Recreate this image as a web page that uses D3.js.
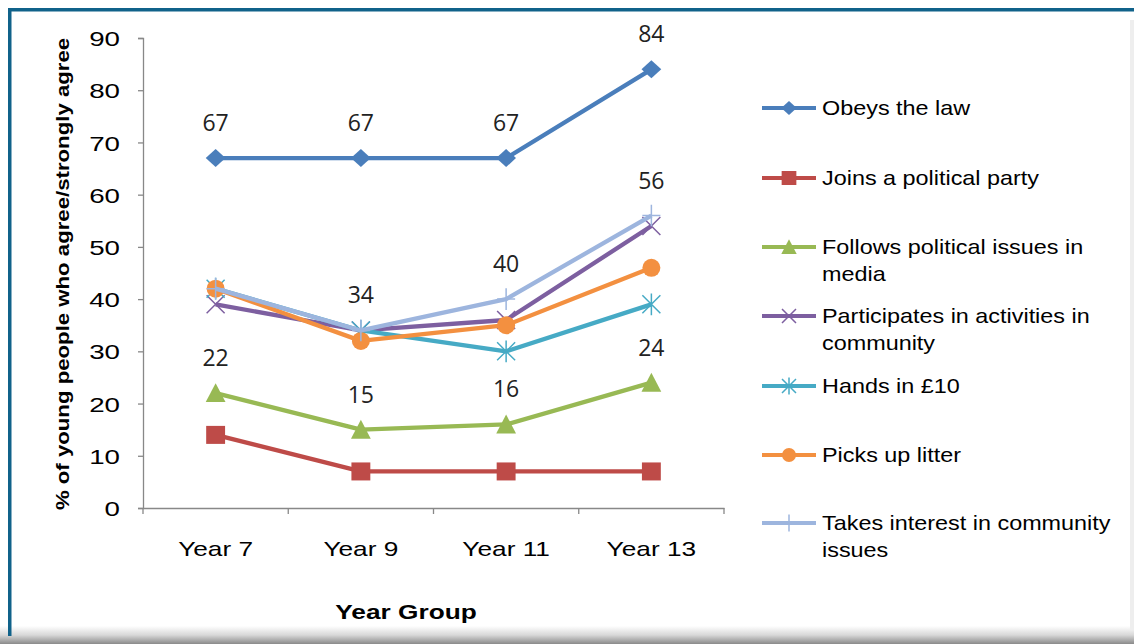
<!DOCTYPE html>
<html><head><meta charset="utf-8">
<script src="https://cdn.jsdelivr.net/npm/d3@7"></script>
<style>body{margin:0;background:#fff}svg{display:block}</style>
</head><body>
<svg id="c" width="1134" height="644"></svg>
<script>
const categories = ["Year 7", "Year 9", "Year 11", "Year 13"];
const seriesNames = ["Obeys the law", "Joins a political party", "Follows political issues in media", "Participates in activities in community", "Hands in £10", "Picks up litter", "Takes interest in community issues"];
const legendLines = [["Obeys the law"], ["Joins a political party"], ["Follows political issues in", "media"], ["Participates in activities in", "community"], ["Hands in £10"], ["Picks up litter"], ["Takes interest in community", "issues"]];
const obeys = [67, 67, 67, 84];
const joins = [14, 7, 7, 7];
const follows = [22, 15, 16, 24];
const participates = [39, 34, 36, 54];
const hands = [42, 34, 30, 39];
const litter = [42, 32, 35, 46];
const interest = [42, 34, 40, 56];
const yTicks = [0, 10, 20, 30, 40, 50, 60, 70, 80, 90];
// which points carry value labels (series index -> category indices)
const labelled = {0: [0,1,2,3], 2: [0,1,2,3], 6: [1,2,3]};

const allSeries = [obeys, joins, follows, participates, hands, litter, interest];
const colors = ["#4A7EBB", "#BE4B48", "#98B954", "#7D5FA0", "#46AAC5", "#F39040", "#9DB5DE"];
const markers = ["diamond", "square", "triangle", "x", "star", "circle", "plus"];
const FONT = "Liberation Sans, Arial, sans-serif";

const svg = d3.select("#c");
// frame
const defs = svg.append("defs");
const g1 = defs.append("linearGradient").attr("id","bot").attr("x1",0).attr("y1",0).attr("x2",0).attr("y2",1);
g1.append("stop").attr("offset","0").attr("stop-color","#ffffff");
g1.append("stop").attr("offset","0.5").attr("stop-color","#d8d8d8");
g1.append("stop").attr("offset","1").attr("stop-color","#8a8a8a");
svg.append("rect").attr("x",0).attr("y",626).attr("width",1134).attr("height",18).attr("fill","url(#bot)");
svg.append("rect").attr("x",8).attr("y",8).attr("width",1126).attr("height",3.5).attr("fill","#10628A");
svg.append("rect").attr("x",8).attr("y",8).attr("width",3.5).attr("height",628).attr("fill","#10628A");
svg.append("rect").attr("x",1130).attr("y",20).attr("width",4).attr("height",610).attr("fill","#eeeeee");

const x = d3.scaleBand().domain(categories).range([143, 724]);
const y = d3.scaleLinear().domain([0, 90]).range([508, 38]);
const cx = c => x(c) + x.bandwidth()/2;

const axisColor = "#888";
// y axis
const ya = svg.append("g").attr("transform","translate(143,0)")
  .call(d3.axisLeft(y).tickValues(yTicks).tickSize(5));
ya.select(".domain").attr("stroke",axisColor).attr("stroke-width",1.3);
ya.selectAll(".tick line").attr("stroke",axisColor).attr("stroke-width",1.3);
ya.selectAll("text").attr("font-family",FONT).attr("font-size",21).attr("fill","#000")
  .attr("x",0).attr("dy","0.36em").attr("text-anchor","end")
  .attr("transform","translate(-23,0) scale(1.32,1)");
// x axis
const xa = svg.append("g").attr("transform","translate(0,508)")
  .call(d3.axisBottom(x).tickSize(0));
xa.select(".domain").attr("stroke",axisColor).attr("stroke-width",1.3);
xa.selectAll("text").attr("font-family",FONT).attr("font-size",21).attr("fill","#000")
  .attr("y",0).attr("dy",0).attr("text-anchor","middle")
  .attr("transform","translate(0,48) scale(1.25,1)");
// x band boundary ticks
const bounds = categories.map(c => x(c)).concat([x.range()[1]]);
svg.append("g").selectAll("line").data(bounds).join("line")
  .attr("x1",d=>d).attr("x2",d=>d).attr("y1",508).attr("y2",514)
  .attr("stroke",axisColor).attr("stroke-width",1.3);

// axis titles
svg.append("text").attr("transform","translate(406,619) scale(1.25,1)").attr("text-anchor","middle")
  .attr("font-family",FONT).attr("font-weight","bold").attr("font-size",21)
  .text("Year Group");
svg.append("text").attr("transform","translate(69,274) rotate(-90) scale(1.2,1)").attr("text-anchor","middle")
  .attr("font-family",FONT).attr("font-weight","bold").attr("font-size",18.5)
  .text("% of young people who agree/strongly agree");

function drawMarker(sel, type, color, s) {
  if (type === "diamond") sel.append("path").attr("d",`M0,${-s}L${s*1.1},0L0,${s}L${-s*1.1},0Z`).attr("fill",color);
  else if (type === "square") sel.append("rect").attr("x",-s*1.05).attr("y",-s).attr("width",s*2.1).attr("height",s*2).attr("fill",color);
  else if (type === "triangle") sel.append("path").attr("d",`M0,${-s*1.1}L${s*1.1},${s}L${-s*1.1},${s}Z`).attr("fill",color);
  else if (type === "circle") sel.append("circle").attr("r",s*1.0).attr("fill",color);
  else if (type === "x") sel.append("path").attr("d",`M${-s},${-s}L${s},${s}M${-s},${s}L${s},${-s}`).attr("stroke",color).attr("stroke-width",1.5);
  else if (type === "star") sel.append("path").attr("d",`M${-s},${-s}L${s},${s}M${-s},${s}L${s},${-s}M0,${-s*1.2}L0,${s*1.2}`).attr("stroke",color).attr("stroke-width",1.5);
  else if (type === "plus") sel.append("path").attr("d",`M${-s},0L${s},0M0,${-s*1.2}L0,${s*1.2}`).attr("stroke",color).attr("stroke-width",1.5);
}

const line = d3.line().x((d,i)=>cx(categories[i])).y(d=>y(d));
allSeries.forEach((vals, si) => {
  const g = svg.append("g");
  g.append("path").datum(vals).attr("d",line).attr("fill","none")
    .attr("stroke",colors[si]).attr("stroke-width",4.3).attr("stroke-linejoin","round");
  vals.forEach((v,i) => {
    const m = g.append("g").attr("transform",`translate(${cx(categories[i])},${y(v)})`);
    drawMarker(m, markers[si], colors[si], 9);
  });
});
// data labels
Object.entries(labelled).forEach(([si, idxs]) => {
  idxs.forEach(i => {
    const v = allSeries[si][i];
    svg.append("text").attr("x",cx(categories[i])).attr("y",y(v)-27).attr("text-anchor","middle")
      .attr("font-family","Open Sans, Liberation Sans, sans-serif").attr("font-size",23).attr("fill","#222")
      .text(v);
  });
});

// legend
const legY = [108, 178, 247, 316, 386, 455, 523];
seriesNames.forEach((name, si) => {
  const g = svg.append("g").attr("transform",`translate(0,${legY[si]})`);
  g.append("line").attr("x1",762).attr("x2",816).attr("y1",0).attr("y2",0).attr("stroke",colors[si]).attr("stroke-width",4);
  const m = g.append("g").attr("transform","translate(789,0)");
  drawMarker(m, markers[si], colors[si], 7);
  const t = g.append("text").attr("transform","translate(822,7) scale(1.17,1)")
    .attr("font-family",FONT).attr("font-size",20).attr("fill","#000");
  legendLines[si].forEach((ln, li) => {
    t.append("tspan").attr("x",0).attr("dy", li===0 ? 0 : 27).text(ln);
  });
});
</script>
</body></html>
